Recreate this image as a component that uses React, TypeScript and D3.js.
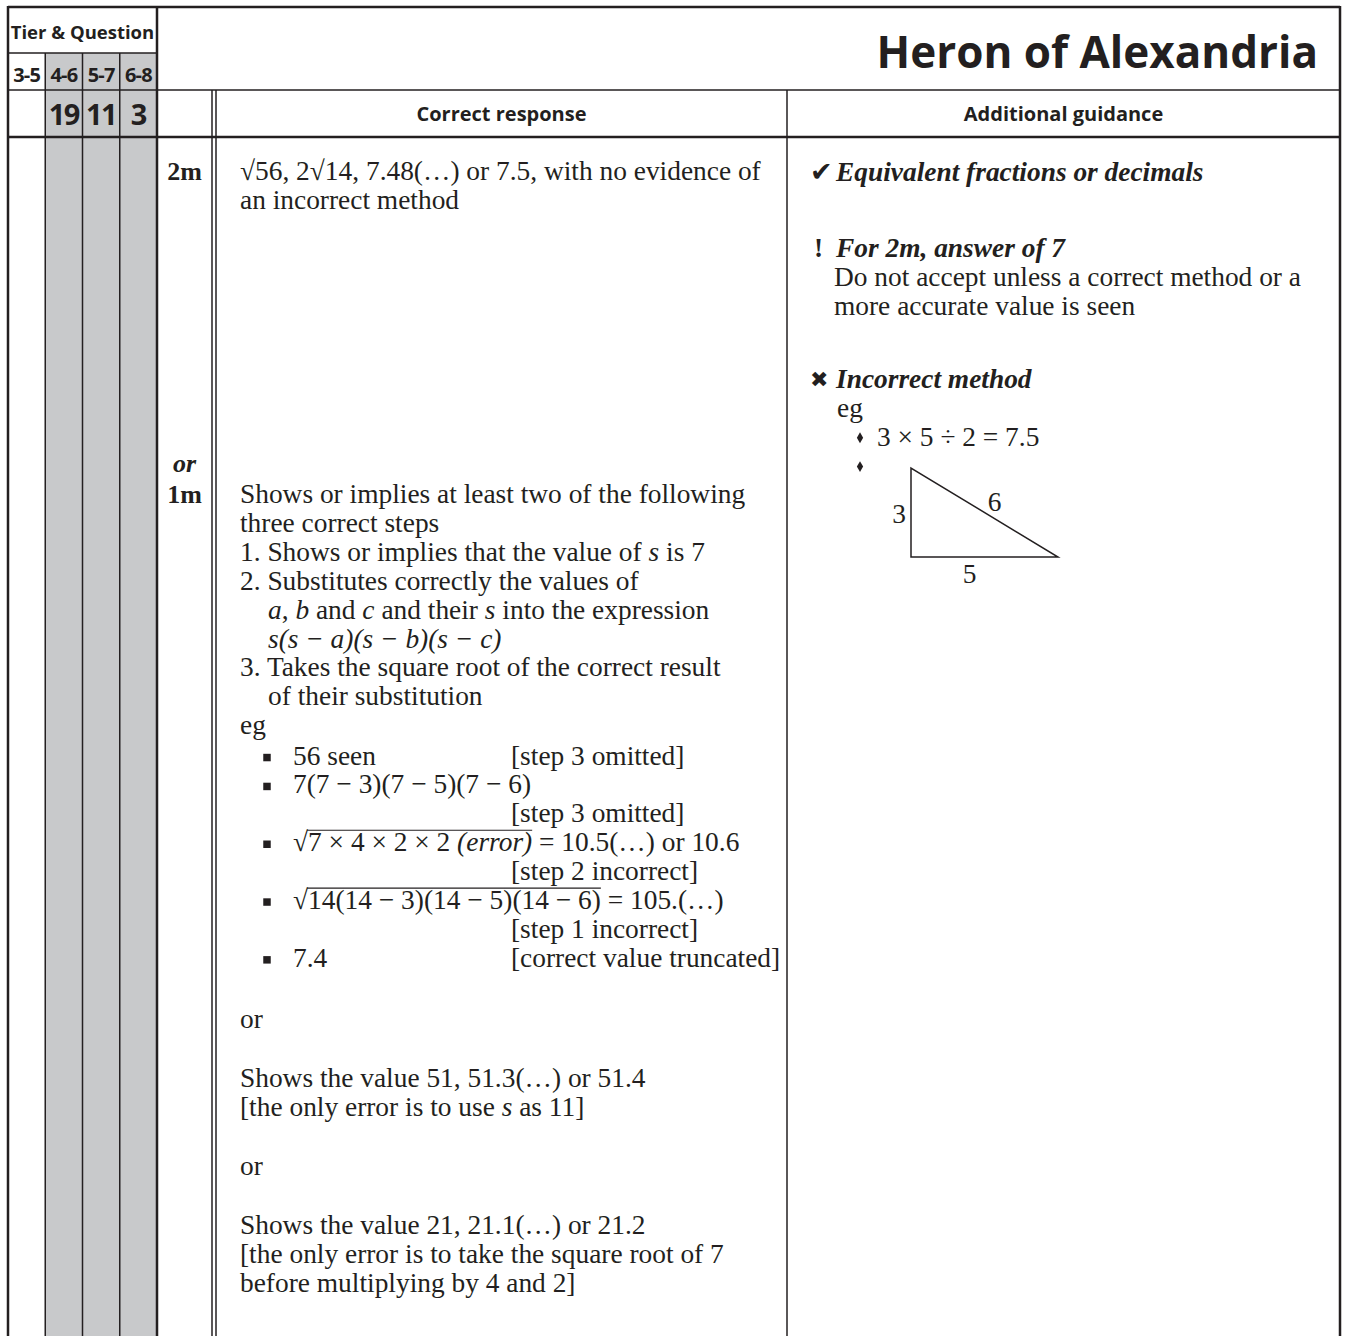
import React, { useEffect, useRef } from 'react'
import * as d3 from 'd3'

const W = 1348
const H = 1336
const INK = '#231f20'
const GREY = '#c8c9cb'
const SERIF = "'Liberation Serif', 'Times New Roman', serif"
const SANS = "'Open Sans', 'Noto Sans', sans-serif"
const SYM = "'DejaVu Sans', sans-serif"

// header cells
const tierBands = ['3-5', '4-6', '5-7', '6-8']
const shadedTiers = ['4-6', '5-7', '6-8']
const questionNumbers = ['', '19', '11', '3']
const title = 'Heron of Alexandria'
const headings = ['Correct response', 'Additional guidance']

// segment style: r regular, i italic, b bold, o under the square-root bar
type Seg = [string, string]
type Line = { kind: string; gap: number; segs: Seg[]; note?: string }

const fullMarkLines: Line[] = [
  { kind: 'p', gap: 0, segs: [['√56, 2√14, 7.48(…) or 7.5, with no evidence of', 'r']] },
  { kind: 'p', gap: 1, segs: [['an incorrect method', 'r']] },
]

const partialMarkLines: Line[] = [
  { kind: 'p', gap: 0, segs: [['Shows or implies at least two of the following', 'r']] },
  { kind: 'p', gap: 1, segs: [['three correct steps', 'r']] },
  { kind: 'p', gap: 1, segs: [['1. Shows or implies that the value of ', 'r'], ['s', 'i'], [' is 7', 'r']] },
  { kind: 'p', gap: 1, segs: [['2. Substitutes correctly the values of', 'r']] },
  { kind: 'c', gap: 1, segs: [['a', 'i'], [', ', 'r'], ['b', 'i'], [' and ', 'r'], ['c', 'i'], [' and their ', 'r'], ['s', 'i'], [' into the expression', 'r']] },
  { kind: 'c', gap: 1, segs: [['s(s − a)(s − b)(s − c)', 'i']] },
  { kind: 'p', gap: 1, segs: [['3. Takes the square root of the correct result', 'r']] },
  { kind: 'c', gap: 1, segs: [['of their substitution', 'r']] },
  { kind: 'p', gap: 1, segs: [['eg', 'r']] },
  { kind: 'b', gap: 1.05, segs: [['56 seen', 'r']], note: '[step 3 omitted]' },
  { kind: 'b', gap: 1, segs: [['7(7 − 3)(7 − 5)(7 − 6)', 'r']] },
  { kind: 'n', gap: 1, segs: [], note: '[step 3 omitted]' },
  { kind: 'b', gap: 1, segs: [['√', 'r'], ['7 × 4 × 2 × 2 ', 'o'], ['(error)', 'oi'], [' = 10.5(…) or 10.6', 'r']] },
  { kind: 'n', gap: 1, segs: [], note: '[step 2 incorrect]' },
  { kind: 'b', gap: 1, segs: [['√', 'r'], ['14(14 − 3)(14 − 5)(14 − 6)', 'o'], [' = 105.(…)', 'r']] },
  { kind: 'n', gap: 1, segs: [], note: '[step 1 incorrect]' },
  { kind: 'b', gap: 1, segs: [['7.4', 'r']], note: '[correct value truncated]' },
  { kind: 'p', gap: 2.1, segs: [['or', 'r']] },
  { kind: 'p', gap: 2.05, segs: [['Shows the value 51, 51.3(…) or 51.4', 'r']] },
  { kind: 'p', gap: 1, segs: [['[the only error is to use ', 'r'], ['s', 'i'], [' as 11]', 'r']] },
  { kind: 'p', gap: 2.05, segs: [['or', 'r']] },
  { kind: 'p', gap: 2.05, segs: [['Shows the value 21, 21.1(…) or 21.2', 'r']] },
  { kind: 'p', gap: 1, segs: [['[the only error is to take the square root of 7', 'r']] },
  { kind: 'p', gap: 1, segs: [['before multiplying by 4 and 2]', 'r']] },
]

const guidanceLines: Line[] = [
  { kind: '✔', gap: 0, segs: [['Equivalent fractions or decimals', 'bi']] },
  { kind: '!', gap: 2.63, segs: [['For 2m, answer of 7', 'bi']] },
  { kind: 'c', gap: 1, segs: [['Do not accept unless a correct method or a', 'r']] },
  { kind: 'c', gap: 1, segs: [['more accurate value is seen', 'r']] },
  { kind: '✖', gap: 2.53, segs: [['Incorrect method', 'bi']] },
  { kind: 'e', gap: 1, segs: [['eg', 'r']] },
  { kind: 'd', gap: 1, segs: [['3 × 5 ÷ 2 = 7.5', 'r']] },
  { kind: 'd', gap: 1, segs: [] },
]

// right-angled sketch: legs 3 (up) and 5 (across), hypotenuse labelled 6
const triangleLegs = [3, 5]
const triangleLabels = ['3', '5', '6']

const App = () => {
  const svgRef = useRef<SVGSVGElement>(null)

  useEffect(() => {
    const svg = d3.select(svgRef.current)
    svg.selectAll('*').remove()

    const left = 8, right = 1340, top = 7
    const rows = [top, 53, 90, 137]
    const markX = [157, 212, 216]
    const colDiv = 787

    const tierX = d3.scaleBand<string>().domain(tierBands).range([left, markX[0]])

    // grey shading of the tiers that carry this question
    svg.append('rect')
      .attr('x', tierX(shadedTiers[0]))
      .attr('y', rows[1])
      .attr('width', markX[0] - (tierX(shadedTiers[0]) as number))
      .attr('height', H - rows[1])
      .attr('fill', GREY)

    const rule = (x1: number, y1: number, x2: number, y2: number, w = 1.5) =>
      svg.append('line').attr('x1', x1).attr('y1', y1).attr('x2', x2).attr('y2', y2)
        .attr('stroke', INK).attr('stroke-width', w)

    // grid
    rule(left, top, right, top, 2.5)
    rule(left, rows[1], markX[0], rows[1])
    rule(left, rows[2], right, rows[2])
    rule(left, rows[3], right, rows[3], 2.5)
    rule(left, top - 1, left, H, 2.5)
    rule(right, top - 1, right, H, 2.5)
    rule(markX[0], top, markX[0], H, 2.5)
    tierBands.slice(1).forEach(b => rule(tierX(b) as number, rows[1], tierX(b) as number, H))
    rule(markX[1], rows[2], markX[1], H)
    rule(markX[2], rows[2], markX[2], H)
    rule(colDiv, rows[2], colDiv, H)

    const sans = (t: string, x: number, y: number, size: number, anchor = 'middle') =>
      svg.append('text').attr('x', x).attr('y', y).attr('text-anchor', anchor)
        .attr('font-family', SANS).attr('font-weight', 'bold').attr('font-size', size)
        .attr('fill', INK).text(t)

    sans('Tier & Question', (left + markX[0]) / 2, 39, 18.5)
    tierBands.forEach(b => sans(b, (tierX(b) as number) + tierX.bandwidth() / 2, 82, 20).attr('letter-spacing', -0.8))
    tierBands.forEach((b, i) => sans(questionNumbers[i], (tierX(b) as number) + tierX.bandwidth() / 2, 125, 29).attr('letter-spacing', -1.5))
    sans(title, 1318, 68, 44, 'end')
    sans(headings[0], (markX[2] + colDiv) / 2, 121, 20)
    sans(headings[1], (colDiv + right) / 2, 121, 20)

    const FS = 27.4
    const step = 28.9

    const drawText = (x: number, y: number, segs: Seg[], size = FS) => {
      const t = svg.append('text').attr('x', x).attr('y', y)
        .attr('font-family', SERIF).attr('font-size', size).attr('fill', INK)
        .style('white-space', 'pre')
      segs.forEach(([s, st]) => {
        t.append('tspan').text(s)
          .attr('font-style', st.includes('i') ? 'italic' : null)
          .attr('font-weight', st.includes('b') ? 'bold' : null)
      })
      let idx = 0, o0 = -1, o1 = -1
      segs.forEach(([s, st]) => {
        if (st.includes('o')) { if (o0 < 0) o0 = idx; o1 = idx + s.length - 1 }
        idx += s.length
      })
      if (o0 >= 0) {
        const node = t.node() as SVGTextElement
        const x0 = node.getStartPositionOfChar(o0).x - 1
        const x1 = node.getEndPositionOfChar(o1).x
        rule(x0, y - 21, x1, y - 21, 1.2)
      }
      return t
    }

    const layout = (lines: Line[], start: number) => {
      let acc = 0
      return lines.map(l => { acc += l.gap; return d3.scaleLinear().domain([0, 1]).range([start, start + step])(acc) })
    }

    // mark column
    const markCx = (markX[0] + markX[1]) / 2
    const mark = (t: string, y: number, italic = false) =>
      svg.append('text').attr('x', markCx).attr('y', y).attr('text-anchor', 'middle')
        .attr('font-family', SERIF).attr('font-weight', 'bold').attr('font-size', 26)
        .attr('font-style', italic ? 'italic' : null).attr('fill', INK).text(t)

    // correct response column
    const textX = 240, contX = 268, bulletX = 267, bulletTextX = 293, noteX = 511
    const fullY = layout(fullMarkLines, 180)
    fullMarkLines.forEach((l, i) => drawText(textX, fullY[i], l.segs))
    mark('2m', fullY[0])

    const partY = layout(partialMarkLines, 503)
    mark('or', partY[0] - 31, true)
    mark('1m', partY[0])
    const square = d3.symbol().type(d3.symbolSquare).size(56)
    partialMarkLines.forEach((l, i) => {
      const y = partY[i]
      if (l.kind === 'p') drawText(textX, y, l.segs)
      if (l.kind === 'c') drawText(contX, y, l.segs)
      if (l.kind === 'b') {
        svg.append('path').attr('d', square()).attr('fill', INK)
          .attr('transform', `translate(${bulletX},${y - 7})`)
        drawText(bulletTextX, y, l.segs)
      }
      if (l.note) drawText(noteX, y, [[l.note, 'r']])
    })

    // additional guidance column
    const gIconX = 810, gTextX = 836, gContX = 834, gEgX = 837, gDiaX = 860, gDiaTextX = 877
    const guideY = layout(guidanceLines, 181)
    const diamond = d3.symbol().type(d3.symbolDiamond).size(34)
    guidanceLines.forEach((l, i) => {
      const y = guideY[i]
      if (l.kind === '✔' || l.kind === '✖') {
        svg.append('text').attr('x', gIconX).attr('y', y - (l.kind === '✖' ? 1 : 0)).attr('font-family', SYM)
          .attr('font-size', l.kind === '✔' ? 27 : 22).attr('fill', INK).text(l.kind)
        drawText(gTextX, y, l.segs)
      } else if (l.kind === '!') {
        drawText(gIconX + 4, y, [['!', 'b']])
        drawText(gTextX, y, l.segs)
      } else if (l.kind === 'c') drawText(gContX, y, l.segs)
      else if (l.kind === 'e') drawText(gEgX, y, l.segs)
      else if (l.kind === 'd') {
        svg.append('path').attr('d', diamond()).attr('fill', INK)
          .attr('transform', `translate(${gDiaX},${y - 8})`)
        drawText(gDiaTextX, y, l.segs)
      }
    })

    // triangle sketch
    const tx = d3.scaleLinear().domain([0, triangleLegs[1]]).range([911, 1058])
    const ty = d3.scaleLinear().domain([0, triangleLegs[0]]).range([557, 468])
    const tri: [number, number][] = [[0, triangleLegs[0]], [0, 0], [triangleLegs[1], 0]]
    svg.append('path')
      .attr('d', d3.line<[number, number]>().x(d => tx(d[0])).y(d => ty(d[1]))(tri) + 'Z')
      .attr('fill', 'none').attr('stroke', INK).attr('stroke-width', 1.5)
    const lab = (t: string, x: number, y: number) =>
      svg.append('text').attr('x', x).attr('y', y).attr('text-anchor', 'middle')
        .attr('font-family', SERIF).attr('font-size', FS).attr('fill', INK).text(t)
    lab(triangleLabels[0], tx(0) - 12, ty(triangleLegs[0] / 2) + 10)
    lab(triangleLabels[1], tx(triangleLegs[1] / 2) - 15, ty(0) + 26)
    lab(triangleLabels[2], tx(triangleLegs[1] / 2) + 10, ty(triangleLegs[0] / 2) - 2)
  }, [])

  return (
    <svg ref={svgRef} width={W} height={H}
      style={{ position: 'absolute', left: 0, top: 0, display: 'block', background: '#fff' }} />
  )
}

export default App
